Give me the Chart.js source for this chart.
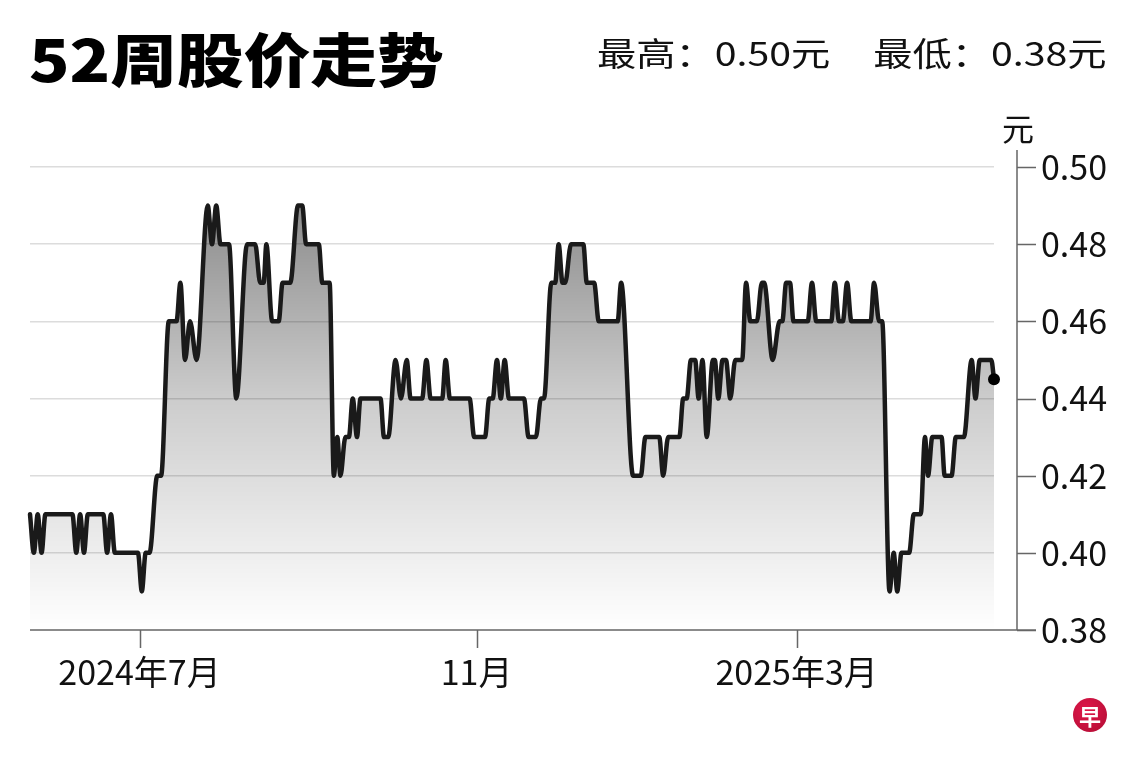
<!DOCTYPE html>
<html lang="zh">
<head>
<meta charset="UTF-8">
<title>52周股价走势</title>
<script src="https://cdn.jsdelivr.net/npm/chart.js"></script>
<style>
  body {
    margin: 0;
    width: 1140px;
    height: 760px;
    background: #fff;
    position: relative;
    overflow: hidden;
    font-family: "Noto Sans CJK SC", sans-serif;
    color: #111;
  }
  canvas { position: absolute; left: 0; top: 0; }
  .txt { position: absolute; line-height: 1; white-space: pre; transform-origin: 0 0; }
  #title { left: 29px; top: 28px; font-size: 58px; font-weight: 900; color: #000; transform: scaleX(1.15); }
  #range { left: 597px; top: 36px; font-size: 33px; transform: scaleX(1.19); }
  #range .low { margin-left: 36px; }
  #unit { left: 1002px; top: 111px; font-size: 32px; }
  #logo {
    position: absolute; left: 1073px; top: 698px; width: 34px; height: 34px;
    border-radius: 50%; background: radial-gradient(circle at 40% 35%, #e0174a, #b00c33);
    color: #fff; font-size: 22px; font-weight: 700; line-height: 34px; text-align: center;
  }
</style>
</head>
<body>
  <canvas id="chart" width="1140" height="760"></canvas>
  <div class="txt" id="title">52周股价走势</div>
  <div class="txt" id="range">最高：0.50元<span class="low">最低：0.38元</span></div>
  <div class="txt" id="unit">元</div>
  <div id="logo">早</div>

<script>
  // trading-day index of each turning point, and the price there
  const days = [
    0, 1, 2, 3, 4, 11, 12, 13, 14, 15, 19, 20, 21, 22, 28, 29, 30, 31, 33, 34,
    36, 38, 39, 40.2, 41.5, 43.2, 46.1, 47.2, 48.3, 49.4, 51.6, 53.5, 56.3, 58.4, 59.7, 60.6, 61.3, 62.8, 64.5, 65.5,
    67.5, 69.5, 70.6, 71.6, 74.9, 75.8, 77.7, 78.8, 79.7, 80.5, 81.8, 82.7, 83.7, 84.8, 85.7, 90.9, 91.8, 92.9, 94.8, 96.2,
    97.7, 98.7, 101.7, 102.8, 103.9, 106.9, 107.8, 108.9, 114, 115.2, 118, 119.1, 120, 121.1, 122.1, 123.1, 124.2, 128.1, 129.3, 131.2,
    132.5, 133.3, 135.2, 136.2, 137.1, 138.1, 138.8, 140.3, 143.5, 144.4, 146.3, 147.5, 152.4, 153.3, 156.4, 158.4, 159.6, 163.2, 164.2, 165.5,
    168.4, 169.4, 170.3, 171.4, 172.5, 173.4, 174.4, 175.5, 177.1, 177.6, 178.5, 179.6, 180.5, 181.6, 182.9, 184.7, 185.7, 186.8, 188.5, 189.8,
    190.4, 192.6, 194.4, 195.1, 196.1, 197.1, 198, 201.7, 202.8, 203.9, 207.8, 208.7, 209.8, 210.8, 211.9, 213, 218, 218.9, 220.2, 221,
    222.9, 224, 224.9, 226, 228, 229.2, 231, 232.1, 232.9, 234, 236.4, 237.2, 239, 240.1, 242.2, 244.2, 245.2, 246.3, 249.3, 250
  ];
  const prices = [
    0.41, 0.40, 0.41, 0.40, 0.41, 0.41, 0.40, 0.41, 0.40, 0.41, 0.41, 0.40, 0.41, 0.40, 0.40, 0.39, 0.40, 0.40, 0.42, 0.42,
    0.46, 0.46, 0.47, 0.45, 0.46, 0.45, 0.49, 0.48, 0.49, 0.48, 0.48, 0.44, 0.48, 0.48, 0.47, 0.47, 0.48, 0.46, 0.46, 0.47,
    0.47, 0.49, 0.49, 0.48, 0.48, 0.47, 0.47, 0.42, 0.43, 0.42, 0.43, 0.43, 0.44, 0.43, 0.44, 0.44, 0.43, 0.43, 0.45, 0.44,
    0.45, 0.44, 0.44, 0.45, 0.44, 0.44, 0.45, 0.44, 0.44, 0.43, 0.43, 0.44, 0.44, 0.45, 0.44, 0.45, 0.44, 0.44, 0.43, 0.43,
    0.44, 0.44, 0.47, 0.47, 0.48, 0.47, 0.47, 0.48, 0.48, 0.47, 0.47, 0.46, 0.46, 0.47, 0.42, 0.42, 0.43, 0.43, 0.42, 0.43,
    0.43, 0.44, 0.44, 0.45, 0.45, 0.44, 0.45, 0.43, 0.45, 0.45, 0.44, 0.45, 0.45, 0.44, 0.45, 0.45, 0.47, 0.46, 0.46, 0.47,
    0.47, 0.45, 0.46, 0.46, 0.47, 0.47, 0.46, 0.46, 0.47, 0.46, 0.46, 0.47, 0.46, 0.46, 0.47, 0.46, 0.46, 0.47, 0.46, 0.46,
    0.39, 0.40, 0.39, 0.40, 0.40, 0.41, 0.41, 0.43, 0.42, 0.43, 0.43, 0.42, 0.42, 0.43, 0.43, 0.45, 0.44, 0.45, 0.45, 0.445
  ];
  const tickDays = [28.4, 115.8, 198.8];
  const tickLabels = ['2024年7月', '11月', '2025年3月'];
  const yMin = 0.38, yMax = 0.50, yStep = 0.02;

  const axisGap = 23;   // y axis line sits this far right of the plot
  const axisDecor = {
    id: 'axisDecor',
    afterDraw(chart) {
      const { ctx, chartArea, scales: { x, y } } = chart;
      const ax = chartArea.right + axisGap;
      ctx.save();
      ctx.strokeStyle = '#666';
      ctx.lineWidth = 1.5;
      ctx.beginPath();
      ctx.moveTo(ax, chartArea.top - 17);
      ctx.lineTo(ax, chartArea.bottom);
      ctx.moveTo(chartArea.left, chartArea.bottom);
      ctx.lineTo(ax + 19, chartArea.bottom);
      y.ticks.forEach(t => {
        const py = Math.round(y.getPixelForValue(t.value)) + 0.5;
        ctx.moveTo(ax, py);
        ctx.lineTo(ax + 19, py);
      });
      x.ticks.forEach(t => {
        const px = Math.round(x.getPixelForValue(t.value)) + 0.5;
        ctx.moveTo(px, chartArea.bottom);
        ctx.lineTo(px, chartArea.bottom + 18);
      });
      ctx.stroke();
      ctx.restore();
    }
  };

  const font = { family: '"Noto Sans CJK SC", sans-serif', size: 34 };

  new Chart(document.getElementById('chart'), {
    type: 'line',
    data: {
      datasets: [{
        data: days.map((d, i) => ({ x: d, y: prices[i] })),
        borderColor: '#1a1a1a',
        borderWidth: 4.5,
        borderJoinStyle: 'round',
        borderCapStyle: 'round',
        cubicInterpolationMode: 'monotone',
        fill: 'start',
        backgroundColor: c => {
          const { ctx, chartArea } = c.chart;
          if (!chartArea) return 'rgba(0,0,0,0)';
          const g = ctx.createLinearGradient(0, chartArea.top, 0, chartArea.bottom);
          g.addColorStop(0, 'rgba(0,0,0,0.5)');
          g.addColorStop(0.5, 'rgba(0,0,0,0.2)');
          g.addColorStop(1, 'rgba(0,0,0,0)');
          return g;
        },
        pointRadius: c => c.dataIndex === prices.length - 1 ? 6 : 0,
        pointBackgroundColor: '#000',
        pointBorderWidth: 0,
        clip: false
      }]
    },
    options: {
      responsive: false,
      animation: false,
      layout: { padding: { left: 30, top: 167, right: 0, bottom: 0 } },
      plugins: { legend: { display: false }, tooltip: { enabled: false } },
      scales: {
        x: {
          type: 'linear',
          min: 0,
          max: 250,
          afterBuildTicks: s => { s.ticks = tickDays.map(v => ({ value: v })); },
          afterFit: s => { s.height = 130; },
          grid: { display: false, drawTicks: false },
          border: { display: false },
          ticks: {
            autoSkip: false,
            maxRotation: 0,
            padding: 22,
            color: '#111',
            font: font,
            callback: (v, i) => tickLabels[i]
          }
        },
        y: {
          position: 'right',
          min: yMin,
          max: yMax,
          afterFit: s => { s.width = 146; },
          grid: {
            drawTicks: false,
            color: c => Math.abs(c.tick.value - yMin) < 1e-6 ? 'rgba(0,0,0,0)' : '#dcdcdc',
            lineWidth: 1.5
          },
          border: { display: false },
          ticks: {
            stepSize: yStep,
            padding: 47,
            color: '#111',
            font: font,
            callback: v => v.toFixed(2)
          }
        }
      }
    },
    plugins: [axisDecor]
  });
</script>
</body>
</html>
